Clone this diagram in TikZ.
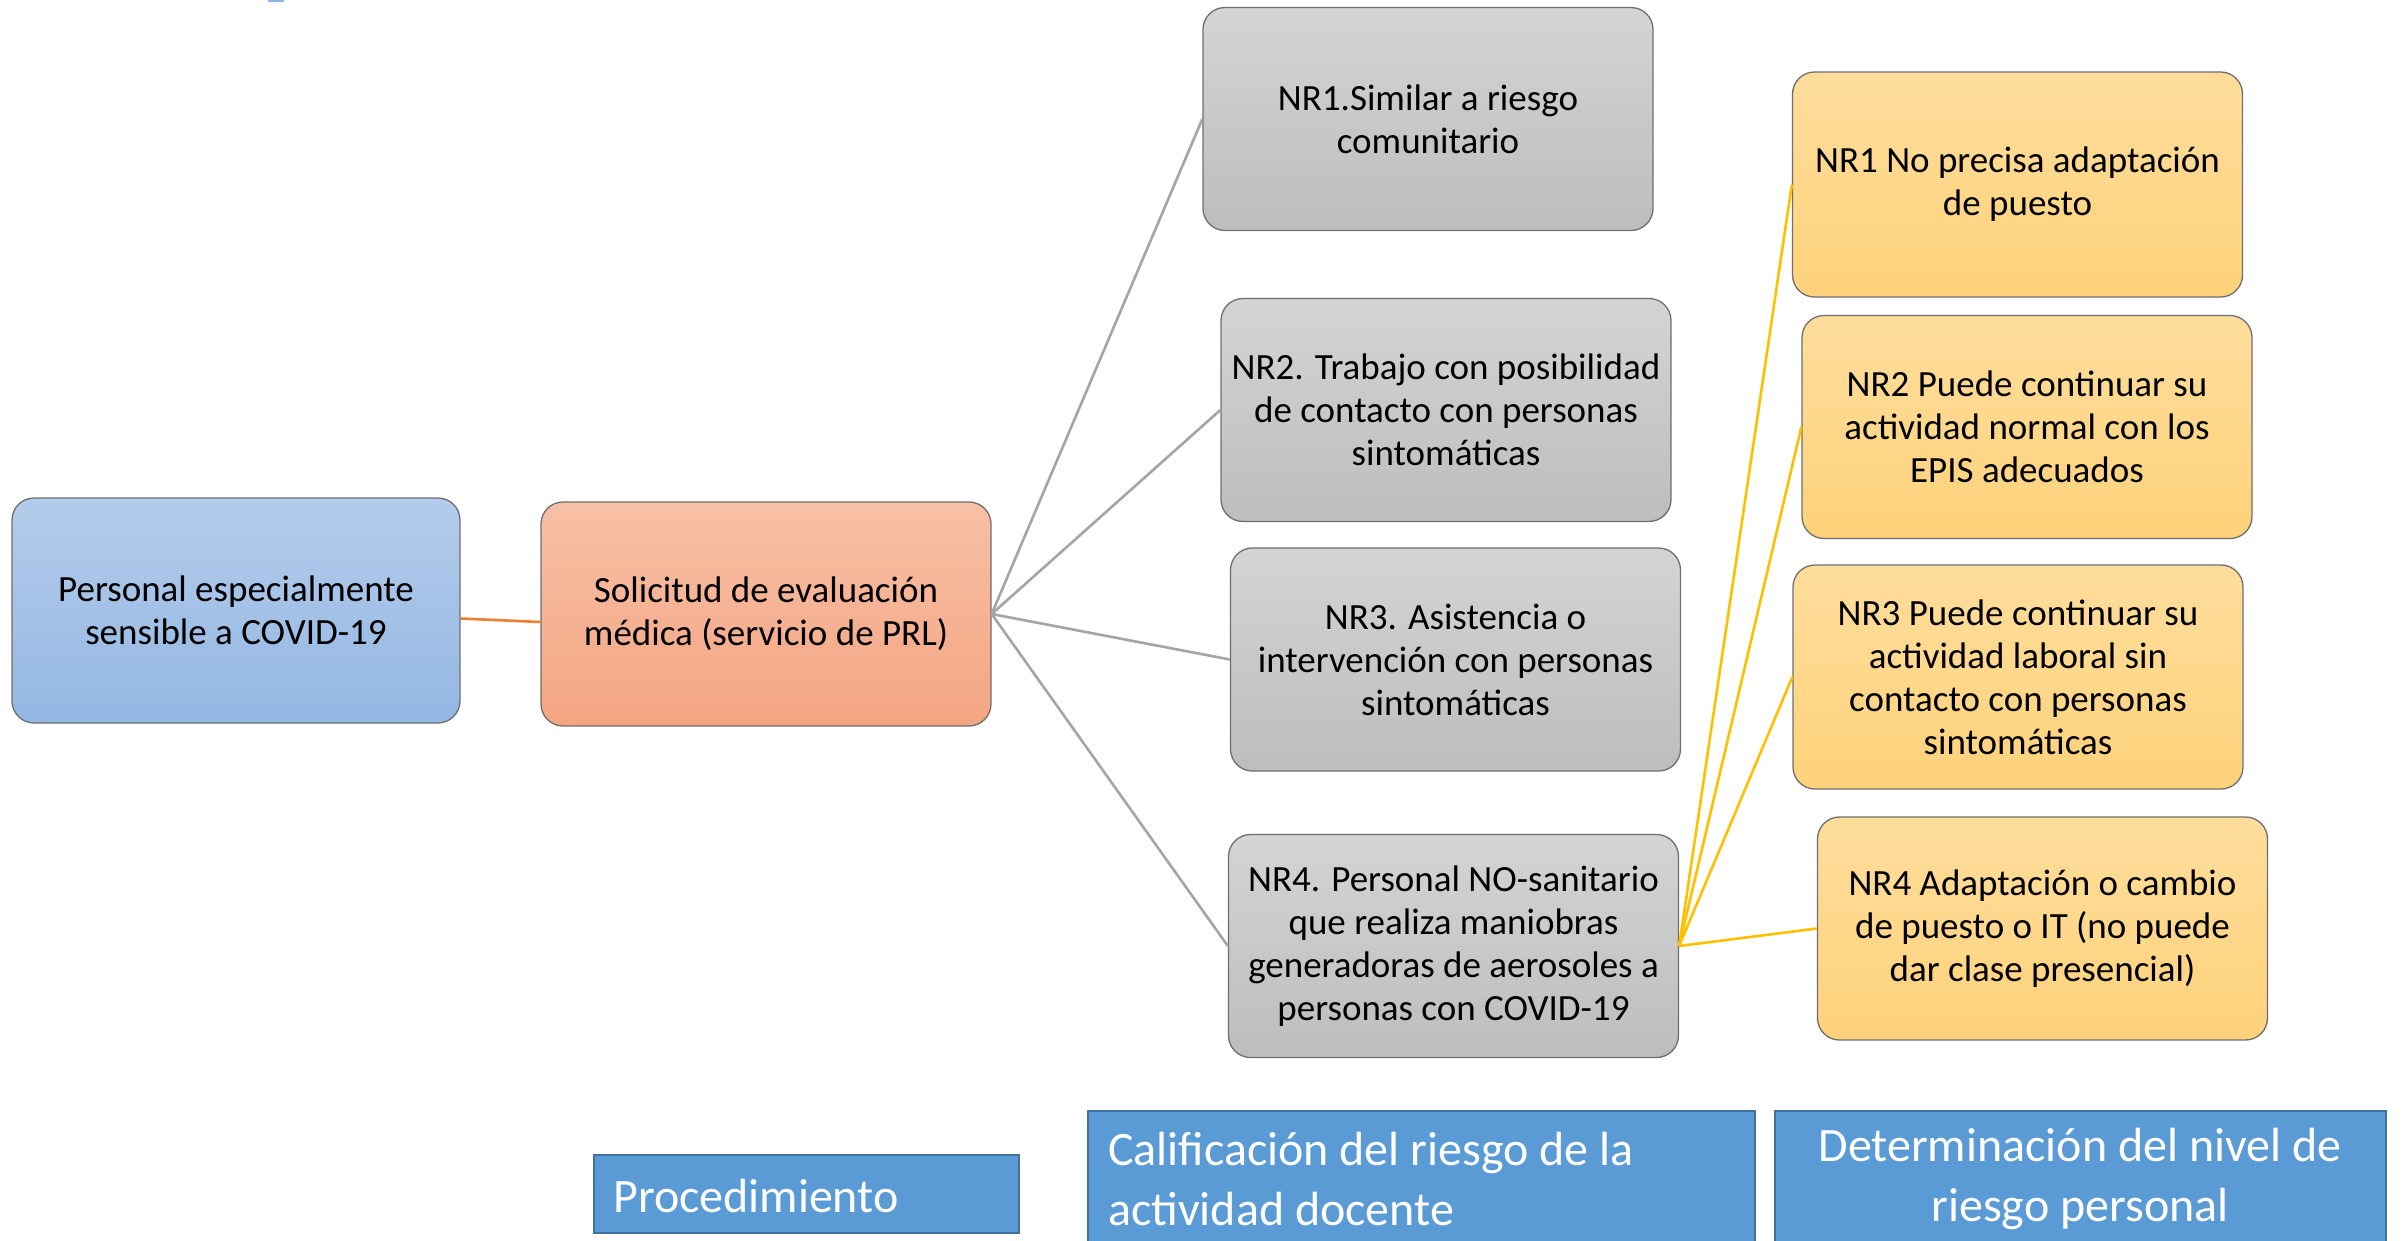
\documentclass[tikz,border=0pt]{standalone}
\usepackage{fontspec}
\setmainfont{Carlito}
\definecolor{blueT}{HTML}{B4CCEB}
\definecolor{blueB}{HTML}{93B7E3}
\definecolor{salT}{HTML}{F7C0A6}
\definecolor{salB}{HTML}{F4A582}
\definecolor{greyT}{HTML}{D4D4D4}
\definecolor{greyB}{HTML}{BDBDBD}
\definecolor{yelT}{HTML}{FEDD9C}
\definecolor{yelB}{HTML}{FED27A}
\definecolor{edgeC}{HTML}{6F6F6F}
\definecolor{lblue}{HTML}{5B9BD5}
\definecolor{lblueD}{HTML}{41719C}
\definecolor{orangeL}{HTML}{ED7D31}
\definecolor{greyL}{HTML}{A5A5A5}
\definecolor{yelL}{HTML}{FFC000}
\definecolor{markC}{HTML}{8FB4E3}
\begin{document}
\begin{tikzpicture}[x=1pt,y=-1pt,
  boxstyle/.style={draw=edgeC, line width=1.3pt, rounded corners=22pt,
    minimum width=450pt, minimum height=223pt, align=center,
    font=\fontsize{37}{43}\selectfont, inner sep=0pt},
  bluebox/.style={boxstyle, top color=blueT, bottom color=blueB},
  salbox/.style={boxstyle, top color=salT, bottom color=salB},
  greybox/.style={boxstyle, top color=greyT, bottom color=greyB},
  yelbox/.style={boxstyle, top color=yelT, bottom color=yelB},
  lblbox/.style={draw=lblueD, line width=2pt, fill=lblue},
  lbltext/.style={text=white, font=\fontsize{48}{60}\selectfont, inner sep=0pt},
  greyline/.style={draw=greyL, line width=2.6pt},
  yelline/.style={draw=yelL, line width=2.6pt},
  orline/.style={draw=orangeL, line width=2.6pt}]
\useasboundingbox (0,0) rectangle (2402,1240);
\fill[white] (0,0) rectangle (2402,1240);
\fill[markC] (268,0) rectangle (284,2);

\node[bluebox, minimum width=448pt, minimum height=225pt] (A) at (236,610.5) {Personal especialmente\\sensible a COVID-19};
\node[salbox, minimum height=224pt] (B) at (766,614) {Solicitud de evaluación\\médica (servicio de PRL)};

\node[greybox] (N1) at (1428,119) {NR1.Similar a riesgo\\comunitario};
\node[greybox] (N2) at (1446,410) {NR2. Trabajo con posibilidad\\de contacto con personas\\sintomáticas};
\node[greybox] (N3) at (1455.5,659.5) {NR3. Asistencia o\\intervención con personas\\sintomáticas};
\node[greybox] (N4) at (1453.5,946) {NR4. Personal NO-sanitario\\que realiza maniobras\\generadoras de aerosoles a\\personas con COVID-19};

\node[yelbox, minimum height=225pt] (Y1) at (2017.5,184.5) {NR1 No precisa adaptación\\de puesto};
\node[yelbox] (Y2) at (2027,427) {NR2 Puede continuar su\\actividad normal con los\\EPIS adecuados};
\node[yelbox, minimum height=224pt] (Y3) at (2018,677) {NR3 Puede continuar su\\actividad laboral sin\\contacto con personas\\sintomáticas};
\node[yelbox] (Y4) at (2042.5,928.5) {NR4 Adaptación o cambio\\de puesto o IT (no puede\\dar clase presencial)};

\draw[orline] ([yshift=-8pt]A.east) -- ([yshift=-8pt]B.west);
\foreach \n in {N1,N2,N3,N4} \draw[greyline] (B.east) -- (\n.west);
\foreach \n in {Y1,Y2,Y3,Y4} \draw[yelline] (N4.east) -- (\n.west);

\draw[lblbox] (594,1155) rectangle (1019,1233);
\node[lbltext, anchor=west] (P) at (613,1196) {Procedimiento};
\draw[lblbox] (1088,1111) rectangle (1755,1260);
\node[lbltext, anchor=west, align=left] (C) at (1108,1179) {Calificación del riesgo de la\\actividad docente};
\draw[lblbox] (1775,1111) rectangle (2386,1260);
\node[lbltext, align=center] (D) at (2080,1179) {Determinación del nivel de\\riesgo personal};
\end{tikzpicture}
\end{document}
